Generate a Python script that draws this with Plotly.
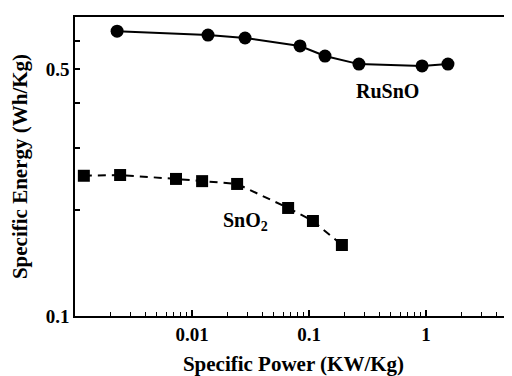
import plotly.graph_objects as go
import math

# Data
rusno_power = [0.00229, 0.0137, 0.0284, 0.0838, 0.137, 0.267, 0.925, 1.54]
rusno_energy = [0.641, 0.625, 0.613, 0.582, 0.545, 0.517, 0.511, 0.517]

sno2_power = [0.00119, 0.00243, 0.0073, 0.0122, 0.0243, 0.0663, 0.108, 0.191]
sno2_energy = [0.2496, 0.2508, 0.2445, 0.241, 0.2366, 0.2023, 0.1858, 0.1589]

x_major = [0.01, 0.1, 1]
x_major_text = ["0.01", "0.1", "1"]
x_minor = [m * 10 ** e for e in (-3, -2, -1, 0) for m in range(2, 10)]
y_ticks = [0.1, 0.2, 0.3, 0.4, 0.5, 0.6]
y_tick_text = ["0.1", "", "", "", "0.5", ""]

FONT = "Liberation Serif"

fig = go.Figure()
fig.add_trace(go.Scatter(
    x=rusno_power, y=rusno_energy, mode="lines+markers",
    line=dict(color="black", width=2),
    marker=dict(symbol="circle", size=13, color="black"),
    showlegend=False))
fig.add_trace(go.Scatter(
    x=sno2_power, y=sno2_energy, mode="lines+markers",
    line=dict(color="black", width=2, dash="8px,6px"),
    marker=dict(symbol="square", size=12, color="black"),
    showlegend=False))

fig.add_annotation(x=math.log10(0.465), y=math.log10(0.435), text="<b>RuSnO</b>",
                   showarrow=False, font=dict(family=FONT, size=20, color="black"))
fig.add_annotation(x=math.log10(0.0286), y=math.log10(0.185), text="<b>SnO<sub>2</sub></b>",
                   showarrow=False, font=dict(family=FONT, size=20, color="black"))

fig.update_layout(
    width=512, height=376,
    margin=dict(l=67, r=8, t=9, b=68),
    paper_bgcolor="white", plot_bgcolor="white",
    font=dict(family=FONT, size=19, color="black"),
    xaxis=dict(
        type="log", range=[-3, math.log10(5.43)], automargin=False,
        tickvals=x_major, ticktext=[f"<b>{t}</b>" for t in x_major_text],
        tickfont=dict(family=FONT, size=19),
        ticks="inside", ticklen=6, tickwidth=1.5, tickcolor="black",
        minor=dict(tickvals=x_minor, ticks="inside", ticklen=4, tickwidth=1, tickcolor="black"),
        showline=True, linecolor="black", linewidth=1.5, mirror=True,
        showgrid=False, zeroline=False,
        title=dict(text="<b>Specific Power (KW/Kg)</b>", font=dict(family=FONT, size=21), standoff=13),
    ),
    yaxis=dict(
        type="log", range=[-1, math.log10(0.703)], automargin=False,
        tickvals=y_ticks, ticktext=[f"<b>{t}</b>" if t else "" for t in y_tick_text],
        tickfont=dict(family=FONT, size=19),
        ticks="inside", ticklen=5, tickwidth=1.5, tickcolor="black",
        showline=True, linecolor="black", linewidth=1.5,
        showgrid=False, zeroline=False,
        title=dict(text="<b>Specific Energy (Wh/Kg)</b>", font=dict(family=FONT, size=21), standoff=17),
    ),
)

fig.write_html("out.html")
